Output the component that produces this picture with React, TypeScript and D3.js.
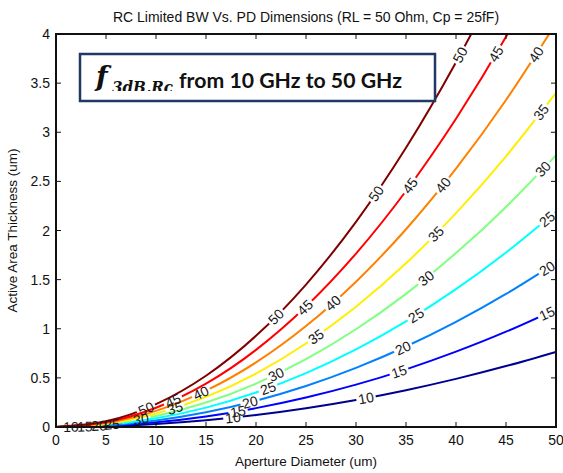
import React, { useEffect, useRef } from 'react';
import * as d3 from 'd3';

const W = 563;
const H = 473;

// Aperture diameter samples (um)
const diameters = [0, 5, 10, 15, 20, 25, 30, 35, 40, 45, 50];
// Contour levels (GHz)
const levels = [10, 15, 20, 25, 30, 35, 40, 45, 50];

// Active-area thickness (um) along each contour
const thick10 = [0, 0.008, 0.031, 0.069, 0.122, 0.191, 0.275, 0.375, 0.49, 0.62, 0.765];
const thick15 = [0, 0.012, 0.048, 0.108, 0.192, 0.3, 0.431, 0.587, 0.767, 0.97, 1.198];
const thick20 = [0, 0.017, 0.067, 0.15, 0.268, 0.418, 0.602, 0.819, 1.07, 1.354, 1.672];
const thick25 = [0, 0.022, 0.088, 0.197, 0.351, 0.548, 0.789, 1.074, 1.403, 1.776, 2.192];
const thick30 = [0, 0.028, 0.111, 0.249, 0.442, 0.691, 0.995, 1.355, 1.77, 2.24, 2.765];
const thick35 = [0, 0.034, 0.136, 0.306, 0.544, 0.85, 1.224, 1.666, 2.177, 2.755, 3.401];
const thick40 = [0, 0.041, 0.164, 0.37, 0.657, 1.027, 1.479, 2.013, 2.63, 3.328, 4.109];
const thick45 = [0, 0.049, 0.196, 0.441, 0.785, 1.226, 1.765, 2.402, 3.138, 3.971, 4.903];
const thick50 = [0, 0.058, 0.232, 0.522, 0.928, 1.45, 2.088, 2.842, 3.713, 4.699, 5.801];

// Diameters where the inline contour labels sit
const labelAt10 = [1.5, 17.7, 31];
const labelAt15 = [2.9, 18.2, 34.3, 49.1];
const labelAt20 = [4.3, 19.4, 34.7, 49.1];
const labelAt25 = [5.6, 21.2, 36, 49.1];
const labelAt30 = [8.5, 22, 37, 48.7];
const labelAt35 = [11.9, 26, 38, 48.5];
const labelAt40 = [14.5, 27.7, 38.7, 48];
const labelAt45 = [11.7, 24.9, 35.4, 44];
const labelAt50 = [9, 22, 32, 40.4];

const levelColors = ['#00008f', '#0000ff', '#0080ff', '#00ffff', '#80ff80', '#ffee00', '#ff8000', '#ff0000', '#800000'];

const xTicks = [0, 5, 10, 15, 20, 25, 30, 35, 40, 45, 50];
const yTicks = [0, 0.5, 1, 1.5, 2, 2.5, 3, 3.5, 4];

const titleText = 'RC Limited BW Vs. PD Dimensions (RL = 50 Ohm, Cp = 25fF)';
const xLabel = 'Aperture Diameter (um)';
const yLabel = 'Active Area Thickness (um)';

export default function App() {
  const ref = useRef<SVGSVGElement>(null);

  useEffect(() => {
    const svg = d3.select(ref.current as SVGSVGElement);
    svg.selectAll('*').remove();

    const left = 56, right = 556, top = 34, bottom = 427;
    const x = d3.scaleLinear().domain([0, 50]).range([left, right]);
    const y = d3.scaleLinear().domain([0, 4]).range([bottom, top]);

    const thickness = [thick10, thick15, thick20, thick25, thick30, thick35, thick40, thick45, thick50];
    const labelsAt = [labelAt10, labelAt15, labelAt20, labelAt25, labelAt30, labelAt35, labelAt40, labelAt45, labelAt50];

    svg.append('rect').attr('width', W).attr('height', H).attr('fill', '#fff');

    const defs = svg.append('defs');
    defs.append('clipPath').attr('id', 'plotClip')
      .append('rect').attr('x', left).attr('y', top).attr('width', right - left).attr('height', bottom - top);

    const font = "'Liberation Sans', Arial, sans-serif";

    const line = d3.line<[number, number]>()
      .x(d => x(d[0]))
      .y(d => y(d[1]))
      .curve(d3.curveNatural);

    const plotG = svg.append('g').attr('clip-path', 'url(#plotClip)');
    const labelG = svg.append('g');

    levels.forEach((lev, i) => {
      const pts: [number, number][] = diameters.map((dd, j) => [dd, thickness[i][j]]);
      const path = plotG.append('path')
        .attr('d', line(pts) as string)
        .attr('fill', 'none')
        .attr('stroke', levelColors[i])
        .attr('stroke-width', 2)
        .attr('stroke-linejoin', 'round');
      const node = path.node() as SVGPathElement;
      const total = node.getTotalLength();

      const findLen = (tx: number) => {
        let lo = 0, hi = total;
        for (let k = 0; k < 40; k++) {
          const mid = (lo + hi) / 2;
          if (node.getPointAtLength(mid).x < tx) lo = mid; else hi = mid;
        }
        return (lo + hi) / 2;
      };

      const mask = defs.append('mask').attr('id', `m${i}`)
        .attr('maskUnits', 'userSpaceOnUse')
        .attr('x', 0).attr('y', 0).attr('width', W).attr('height', H);
      mask.append('rect').attr('x', 0).attr('y', 0).attr('width', W).attr('height', H).attr('fill', '#fff');

      labelsAt[i].forEach(dv => {
        const L = findLen(x(dv));
        const p = node.getPointAtLength(L);
        if (p.y < top + 3) return;
        const p1 = node.getPointAtLength(Math.max(0, L - 2));
        const p2 = node.getPointAtLength(Math.min(total, L + 2));
        const ang = Math.atan2(p2.y - p1.y, p2.x - p1.x) * 180 / Math.PI;
        const t = labelG.append('text')
          .attr('transform', `translate(${p.x},${p.y}) rotate(${ang})`)
          .attr('text-anchor', 'middle')
          .attr('dominant-baseline', 'central')
          .attr('font-family', font)
          .attr('font-size', 14)
          .attr('fill', '#1a1a1a')
          .text(String(lev));
        const tw = (t.node() as SVGTextElement).getComputedTextLength();
        mask.append('rect')
          .attr('x', -tw / 2 - 2).attr('y', -6).attr('width', tw + 4).attr('height', 12)
          .attr('transform', `translate(${p.x},${p.y}) rotate(${ang})`)
          .attr('fill', '#000');
      });
      path.attr('mask', `url(#m${i})`);
    });

    // Axes box
    svg.append('rect')
      .attr('x', left).attr('y', top).attr('width', right - left).attr('height', bottom - top)
      .attr('fill', 'none').attr('stroke', '#111').attr('stroke-width', 2);

    const tickLen = 5;
    xTicks.forEach(v => {
      const px = x(v);
      svg.append('line').attr('x1', px).attr('x2', px).attr('y1', bottom).attr('y2', bottom - tickLen)
        .attr('stroke', '#111').attr('stroke-width', 1);
      svg.append('line').attr('x1', px).attr('x2', px).attr('y1', top).attr('y2', top + tickLen)
        .attr('stroke', '#111').attr('stroke-width', 1);
      svg.append('text').attr('x', px).attr('y', bottom + 18)
        .attr('text-anchor', 'middle').attr('font-family', font).attr('font-size', 14).attr('fill', '#111')
        .text(String(v));
    });
    yTicks.forEach(v => {
      const py = y(v);
      svg.append('line').attr('x1', left).attr('x2', left + tickLen).attr('y1', py).attr('y2', py)
        .attr('stroke', '#111').attr('stroke-width', 1);
      svg.append('line').attr('x1', right).attr('x2', right - tickLen).attr('y1', py).attr('y2', py)
        .attr('stroke', '#111').attr('stroke-width', 1);
      svg.append('text').attr('x', left - 6).attr('y', py)
        .attr('text-anchor', 'end').attr('dominant-baseline', 'central')
        .attr('font-family', font).attr('font-size', 14).attr('fill', '#111')
        .text(String(v));
    });

    // Title and axis labels
    svg.append('text').attr('x', (left + right) / 2).attr('y', 22)
      .attr('text-anchor', 'middle').attr('font-family', font).attr('font-size', 14).attr('fill', '#111')
      .text(titleText);
    svg.append('text').attr('x', (left + right) / 2).attr('y', 466)
      .attr('text-anchor', 'middle').attr('font-family', font).attr('font-size', 13.5).attr('fill', '#111')
      .text(xLabel);
    svg.append('text').attr('transform', `translate(17,${(top + bottom) / 2}) rotate(-90)`)
      .attr('text-anchor', 'middle').attr('font-family', font).attr('font-size', 13.5).attr('fill', '#111')
      .text(yLabel);

    // Annotation box
    svg.append('rect').attr('x', 80).attr('y', 54).attr('width', 355).attr('height', 47)
      .attr('fill', '#fff').attr('stroke', '#1f3864').attr('stroke-width', 2.5);
    defs.append('clipPath').attr('id', 'subClip')
      .append('rect').attr('x', 80).attr('y', 54).attr('width', 355).attr('height', 37);
    const ann = svg.append('g').attr('clip-path', 'url(#subClip)');
    ann.append('text').attr('x', 96).attr('y', 86)
      .attr('font-family', "'DejaVu Serif', 'Liberation Serif', serif").attr('font-style', 'italic')
      .attr('font-weight', 'bold').attr('font-size', 27).attr('fill', '#111').text('f');
    ann.append('text').attr('x', 112).attr('y', 93)
      .attr('font-family', "'DejaVu Serif', 'Liberation Serif', serif").attr('font-style', 'italic')
      .attr('font-weight', 'bold').attr('font-size', 16).attr('fill', '#111')
      .attr('textLength', 61).attr('lengthAdjust', 'spacingAndGlyphs').text('3dB,Rc');
    svg.append('text').attr('x', 179).attr('y', 88)
      .attr('font-family', "Lato, 'Open Sans', sans-serif").attr('font-weight', 'bold')
      .attr('font-size', 20).attr('fill', '#111')
      .attr('textLength', 223).attr('lengthAdjust', 'spacingAndGlyphs')
      .text('from 10 GHz to 50 GHz');
  }, []);

  return (
    <svg ref={ref} width={W} height={H} style={{ position: 'absolute', left: 0, top: 0 }} />
  );
}
